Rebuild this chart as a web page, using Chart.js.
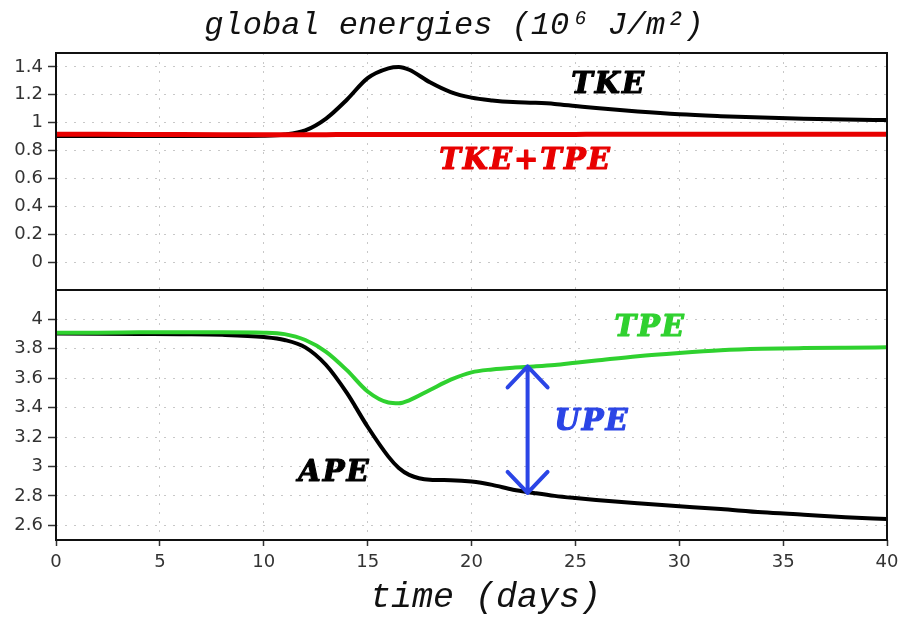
<!DOCTYPE html>
<html>
<head>
<meta charset="utf-8">
<title>global energies</title>
<script src="https://cdn.jsdelivr.net/npm/chart.js@4.4.1/dist/chart.umd.min.js"></script>
<style>
  html, body { margin: 0; padding: 0; background: #fff; }
  #wrap { width: 899px; height: 623px; }
</style>
</head>
<body>
<div id="wrap"><canvas id="energyChart" width="899" height="623"></canvas></div>
<script>
// time axis (days) and the four energy curves (10^6 J/m^2)
const days = [0, 2, 4, 6, 8, 10, 11, 12, 13, 14, 15, 16, 16.5, 17, 18, 19, 20, 21, 22, 23, 24, 25, 26, 28, 30, 32, 34, 36, 38, 40];

const tke = [0.905, 0.905, 0.905, 0.905, 0.905, 0.907, 0.915, 0.945, 1.03, 1.165, 1.32, 1.39, 1.40, 1.38, 1.29, 1.22, 1.18, 1.16, 1.148, 1.143, 1.135, 1.12, 1.105, 1.08, 1.06, 1.047, 1.037, 1.029, 1.023, 1.019];
const tkeTpe = [0.918, 0.917, 0.916, 0.915, 0.914, 0.913, 0.913, 0.914, 0.914, 0.915, 0.915, 0.915, 0.915, 0.915, 0.915, 0.915, 0.915, 0.916, 0.916, 0.916, 0.916, 0.916, 0.917, 0.917, 0.917, 0.917, 0.917, 0.917, 0.917, 0.917];
const tpe = [3.91, 3.91, 3.912, 3.913, 3.913, 3.91, 3.90, 3.86, 3.78, 3.655, 3.51, 3.435, 3.43, 3.45, 3.52, 3.59, 3.64, 3.66, 3.672, 3.68, 3.69, 3.705, 3.72, 3.75, 3.772, 3.79, 3.80, 3.805, 3.808, 3.81];
const ape = [3.905, 3.903, 3.901, 3.899, 3.895, 3.88, 3.86, 3.81, 3.69, 3.50, 3.27, 3.067, 2.99, 2.943, 2.91, 2.907, 2.898, 2.875, 2.842, 2.82, 2.80, 2.785, 2.772, 2.75, 2.73, 2.71, 2.688, 2.672, 2.655, 2.643];

const xTicks = [0, 5, 10, 15, 20, 25, 30, 35, 40];
const topTicks = [0, 0.2, 0.4, 0.6, 0.8, 1, 1.2, 1.4];
const bottomTicks = [2.6, 2.8, 3, 3.2, 3.4, 3.6, 3.8, 4];

// in-plot labels, anchored in data coordinates
const curveLabels = [
  { text: "TKE", x: 26.6, y: 1.27, axis: "yTop", color: "#000000" },
  { text: "TKE+TPE", x: 22.6, y: 0.72, axis: "yTop", color: "#e80000" },
  { text: "TPE", x: 28.6, y: 3.94, axis: "yBottom", color: "#2fd12f" },
  { text: "UPE", x: 25.8, y: 3.30, axis: "yBottom", color: "#2b45e6" },
  { text: "APE", x: 13.4, y: 2.955, axis: "yBottom", color: "#000000" },
];
const upeArrow = { x: 22.7, from: 3.68, to: 2.82 };

const chartTitle = "global energies (10\u2076 J/m\u00b2)";
const xTitle = "time (days)";

const toPoints = (ys) => days.map((d, i) => ({ x: d, y: ys[i] }));
const setTicks = (values) => (scale) => {
  scale.ticks = values.map((v) => ({ value: v }));
};

const gridStyle = {
  color: "#c8c8c8",
  lineWidth: 1,
  tickColor: "#333",
  tickWidth: 1.5,
  tickBorderDash: [],
};
const gridBorder = { display: false, dash: [2, 7] };
const tickFont = { family: "DejaVu Sans", size: 18 };
const tickOpts = { color: "#333", font: tickFont, autoSkip: false, maxRotation: 0, callback: (v) => String(v) };

const framePlugin = {
  id: "frame",
  afterDatasetsDraw(chart) {
    const { ctx, chartArea: a, scales } = chart;
    ctx.save();

    // panel frame and the separator between the two panels
    ctx.strokeStyle = "#111";
    ctx.lineWidth = 2;
    ctx.strokeRect(a.left, a.top, a.right - a.left, a.bottom - a.top);
    ctx.beginPath();
    ctx.moveTo(a.left, scales.yTop.bottom);
    ctx.lineTo(a.right, scales.yTop.bottom);
    ctx.stroke();

    // UPE double arrow
    const ax = scales.x.getPixelForValue(upeArrow.x);
    const y1 = scales.yBottom.getPixelForValue(upeArrow.from);
    const y2 = scales.yBottom.getPixelForValue(upeArrow.to);
    ctx.strokeStyle = "#2b45e6";
    ctx.lineWidth = 4;
    ctx.lineCap = "round";
    ctx.lineJoin = "round";
    ctx.beginPath();
    ctx.moveTo(ax, y1);
    ctx.lineTo(ax, y2);
    ctx.moveTo(ax - 20, y1 + 21);
    ctx.lineTo(ax, y1);
    ctx.lineTo(ax + 20, y1 + 21);
    ctx.moveTo(ax - 20, y2 - 21);
    ctx.lineTo(ax, y2);
    ctx.lineTo(ax + 20, y2 - 21);
    ctx.stroke();

    // curve names (heavy bold italic, thickened with a thin outline)
    ctx.font = "italic bold 29px 'DejaVu Serif'";
    ctx.textAlign = "center";
    ctx.textBaseline = "middle";
    ctx.letterSpacing = "2px";
    ctx.lineWidth = 1.2;
    curveLabels.forEach((l) => {
      const px = scales.x.getPixelForValue(l.x);
      const py = scales[l.axis].getPixelForValue(l.y);
      ctx.fillStyle = l.color;
      ctx.strokeStyle = l.color;
      ctx.fillText(l.text, px, py);
      ctx.strokeText(l.text, px, py);
    });
    ctx.restore();
  },
  afterDraw(chart) {
    // figure title and time-axis title (GrADS-style italic)
    const { ctx, chartArea: a } = chart;
    ctx.save();
    ctx.fillStyle = "#111";
    ctx.textAlign = "center";
    ctx.textBaseline = "middle";
    ctx.font = "italic 32px 'Liberation Mono'";
    ctx.fillText(chartTitle, 454, 26);
    ctx.font = "italic 35px 'Liberation Mono'";
    ctx.fillText(xTitle, (a.left + a.right) / 2 + 14, 598);
    ctx.restore();
  },
};

function renderChart() {
  const canvas = document.getElementById("energyChart");

  new Chart(canvas.getContext("2d"), {
    type: "line",
    data: {
      datasets: [
        { label: "TKE+TPE", data: toPoints(tkeTpe), yAxisID: "yTop", borderColor: "#e80000", borderWidth: 5 },
        { label: "TKE", data: toPoints(tke), yAxisID: "yTop", borderColor: "#000000", borderWidth: 4 },
        { label: "TPE", data: toPoints(tpe), yAxisID: "yBottom", borderColor: "#2fd12f", borderWidth: 4 },
        { label: "APE", data: toPoints(ape), yAxisID: "yBottom", borderColor: "#000000", borderWidth: 4 },
      ],
    },
    options: {
      responsive: false,
      animation: false,
      devicePixelRatio: 1,
      layout: { padding: { left: 0, right: 0, top: 53, bottom: 0 } },
      elements: {
        point: { radius: 0 },
        line: { cubicInterpolationMode: "monotone", borderCapStyle: "round" },
      },
      plugins: {
        legend: { display: false },
        tooltip: { enabled: false },
        title: { display: false },
      },
      scales: {
        x: {
          type: "linear",
          min: 0,
          max: 40,
          afterBuildTicks: setTicks(xTicks),
          afterFit: (scale) => {
            scale.height = 83;
            scale.paddingLeft = 0;
            scale.paddingRight = 12;
          },
          grid: { ...gridStyle, tickLength: 6 },
          border: gridBorder,
          ticks: { ...tickOpts, padding: 6 },
        },
        yBottom: {
          type: "linear",
          position: "left",
          stack: "energy",
          stackWeight: 250,
          min: 2.5,
          max: 4.2,
          afterBuildTicks: setTicks(bottomTicks),
          afterFit: (scale) => { scale.width = 56; },
          grid: { ...gridStyle, tickLength: 8 },
          border: gridBorder,
          ticks: { ...tickOpts, padding: 5 },
        },
        yTop: {
          type: "linear",
          position: "left",
          stack: "energy",
          stackWeight: 237,
          min: -0.2,
          max: 1.5,
          afterBuildTicks: setTicks(topTicks),
          afterFit: (scale) => { scale.width = 56; },
          grid: { ...gridStyle, tickLength: 8 },
          border: gridBorder,
          ticks: { ...tickOpts, padding: 5 },
        },
      },
    },
    plugins: [framePlugin],
  });
}

renderChart();
</script>
</body>
</html>
